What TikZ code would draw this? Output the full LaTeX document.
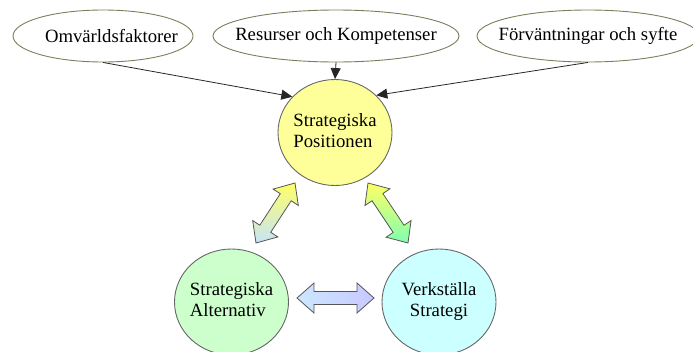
\documentclass[tikz,border=0pt]{standalone}
\usepackage{fontspec}
\setmainfont{Liberation Serif}
\newfontfamily\labelface{Liberation Serif}
\usetikzlibrary{calc,arrows.meta,shapes.geometric}

\definecolor{factorline}{HTML}{7F7D5C}
\definecolor{phaseline}{HTML}{666666}
\definecolor{blockline}{HTML}{555555}
\definecolor{posfill}{HTML}{FFFF99}
\definecolor{altfill}{HTML}{CCFFCC}
\definecolor{implfill}{HTML}{CCFFFF}
\definecolor{warmtop}{HTML}{FFFF66}
\definecolor{skyblue}{HTML}{C6E4F8}
\definecolor{mint}{HTML}{80FFB0}
\definecolor{paleblue}{HTML}{CCE8FF}
\definecolor{lavender}{HTML}{C8C8FF}

% text of zero width, so the shapes keep their own size
\newcommand\zerowide[1]{\makebox[0pt]{#1}}
\newcommand\twolines[3]{\makebox[0pt]{\begin{tabular}{@{}#1@{}}#2\\#3\end{tabular}}}

\tikzset{
  factor/.style={ellipse, draw=factorline, fill=white, line width=0.9pt,
    inner sep=0pt, minimum height=52pt, font=\labelface\fontsize{18.7}{21}\selectfont},
  phase/.style={ellipse, draw=phaseline, line width=0.9pt, inner sep=0pt,
    minimum width=114pt, minimum height=106pt, font=\labelface\fontsize{18.7}{21}\selectfont},
  feed/.style={draw=black!85, line width=0.8pt, -{Triangle[length=11pt,width=10pt]}},
  block/.style={draw=blockline, line width=0.8pt, line join=miter},
}

% two-headed block arrow between two tip points
\newcommand\twowayblock[3]{%
  \path[block,#3] (#1)
    -- ($(#1)!17pt!(#2)!15pt!90:(#2)$) -- ($(#1)!17pt!(#2)!6.5pt!90:(#2)$)
    -- ($(#2)!17pt!(#1)!6.5pt!-90:(#1)$) -- ($(#2)!17pt!(#1)!15pt!-90:(#1)$)
    -- (#2)
    -- ($(#2)!17pt!(#1)!15pt!90:(#1)$) -- ($(#2)!17pt!(#1)!6.5pt!90:(#1)$)
    -- ($(#1)!17pt!(#2)!6.5pt!-90:(#2)$) -- ($(#1)!17pt!(#2)!15pt!-90:(#2)$)
    -- cycle;}

\begin{document}
\begin{tikzpicture}[x=1pt,y=-1pt]
  \useasboundingbox (0,0) rectangle (693,351);

  % influencing factors
  \node[factor, minimum width=180pt] (env) at (103,36) {\zerowide{\hspace{17pt}Omvärldsfaktorer}};
  \node[factor, minimum width=246pt] (res) at (336,36) {\zerowide{Resurser och Kompetenser}};
  \node[factor, minimum width=222pt] (exp) at (588,36) {\zerowide{Förväntningar och syfte}};

  % strategy phases
  \node[phase, fill=posfill] (pos) at (335,132.5) {\twolines{l}{Strategiska}{Positionen}};
  \node[phase, fill=altfill] (alt) at (231.5,302) {\twolines{l}{Strategiska}{Alternativ}};
  \node[phase, fill=implfill] (impl) at (439,302) {\twolines{c}{Verkställa}{Strategi}};

  % factors feeding the strategic position
  \draw[feed] (env.south) -- (pos.140);
  \draw[feed] (res.south) -- (pos.north);
  \draw[feed] (exp.south) -- (pos.42);

  % tips of the block arrows between the phases
  \coordinate (la) at (256,243);
  \coordinate (lb) at (295,183);
  \coordinate (ra) at (408,243);
  \coordinate (rb) at (368,183);
  \coordinate (ha) at (297,298);
  \coordinate (hb) at (374,298);

  \twowayblock{la}{lb}{top color=warmtop, bottom color=skyblue}
  \twowayblock{ra}{rb}{top color=warmtop, bottom color=mint}
  \twowayblock{ha}{hb}{left color=paleblue, right color=lavender}
\end{tikzpicture}
\end{document}
